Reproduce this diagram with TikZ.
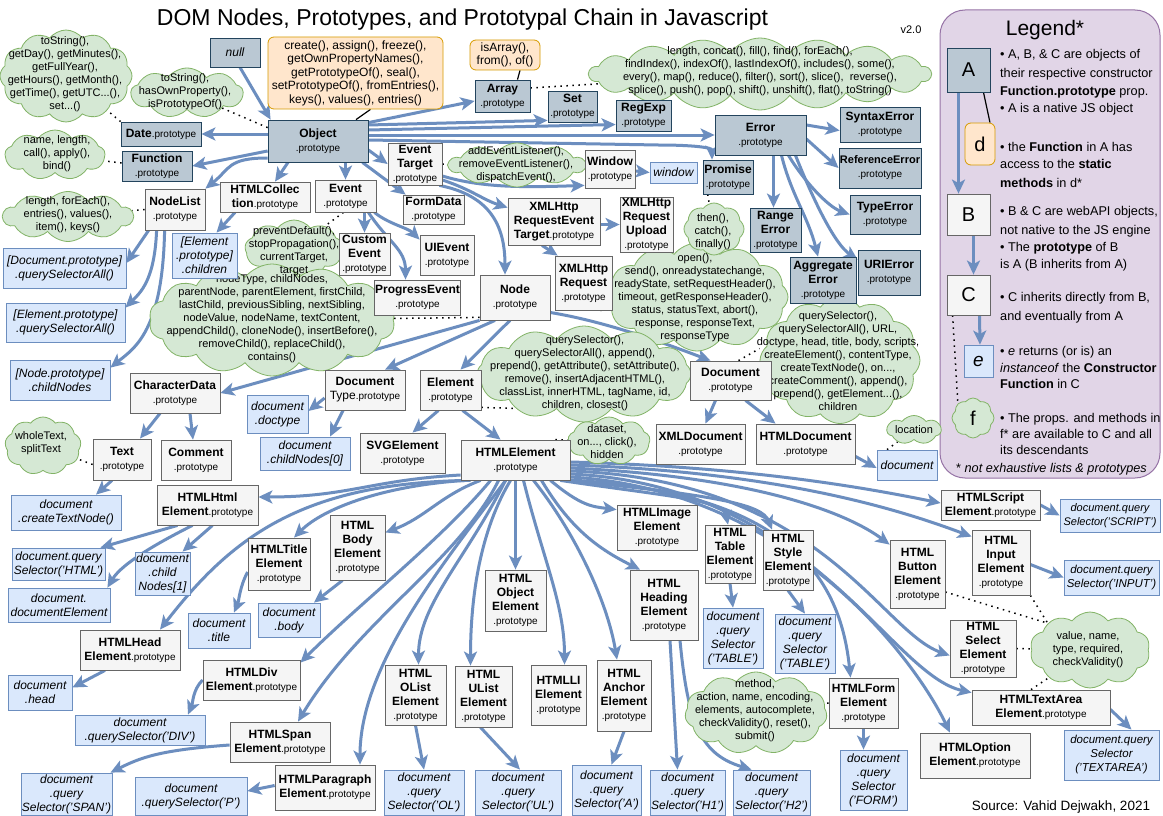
\documentclass[tikz,border=0pt]{standalone}
\usepackage{fontspec}
\setmainfont{Liberation Sans}
\usetikzlibrary{arrows.meta,shapes.symbols,calc}
\definecolor{natF}{HTML}{BAC8D3}
\definecolor{natB}{HTML}{23445D}
\definecolor{webF}{HTML}{F5F5F5}
\definecolor{webB}{HTML}{666666}
\definecolor{instF}{HTML}{DAE8FC}
\definecolor{instB}{HTML}{6C8EBF}
\definecolor{statF}{HTML}{FFE6CC}
\definecolor{statB}{HTML}{D79B00}
\definecolor{cldF}{HTML}{D5E8D4}
\definecolor{cldB}{HTML}{82B366}
\definecolor{arrC}{HTML}{6C8EBF}
\definecolor{legF}{HTML}{E1D5E7}
\definecolor{legB}{HTML}{9673A6}
\pgfdeclarelayer{back}
\pgfdeclarelayer{bg}
\pgfsetlayers{back,bg,main}
\newcommand\protoT{{\fontsize{10}{14}\selectfont .prototype}}
\tikzset{
  bx/.style={draw, line width=0.8pt, align=center, inner sep=1pt, font=\fontsize{12}{14}\selectfont},
  nat/.style={bx, draw=natB, fill=natF},
  web/.style={bx, draw=webB, fill=webF},
  inst/.style={bx, draw=instB, fill=instF, font=\fontsize{12}{14}\selectfont\itshape},
  stat/.style={bx, draw=statB, fill=statF, rounded corners=6pt},
  cld/.style={cloud, cloud puffs=#1, cloud puff arc=105, cloud ignores aspect, draw=cldB, fill=cldF, line width=0.8pt, inner sep=0pt},
  cld/.default=10,
  ctx/.style={align=center, font=\fontsize{11}{13}\selectfont, inner sep=0pt},
  arr/.style={draw=arrC, line width=3pt, -{Stealth[length=14pt,width=13pt,inset=3.5pt]}},
  dotln/.style={draw=black, line width=1.5pt, dash pattern=on 1.5pt off 4.5pt},
  stln/.style={draw=black, line width=1.2pt},
  sz/.style 2 args={minimum width=#1pt, minimum height=#2pt},
  lg/.style={anchor=west, inner sep=0pt, font=\fontsize{12.7}{15}\selectfont},
  big/.style={font=\fontsize{20}{22}\selectfont},
}
\begin{document}
\begin{tikzpicture}[x=1pt,y=-1pt]
\begin{pgfonlayer}{back}
\fill[white] (0,0) rectangle (1163,816);
\node[draw=legB, fill=legF, line width=1pt, rounded corners=25pt, sz={220}{468}, inner sep=0pt] (legend) at (1050,244) {};
\end{pgfonlayer}
\useasboundingbox (0,0) rectangle (1163,816);

% ---------- texts
\node[font=\fontsize{23}{26}\selectfont, inner sep=0pt] (title) at (462.5,20) {DOM Nodes, Prototypes, and Prototypal Chain in Javascript};
\node[font=\fontsize{11}{13}\selectfont, inner sep=0pt] (ver) at (911,30) {v2.0};
\node[font=\fontsize{13.5}{16}\selectfont, inner sep=0pt] (src) at (1061,807) {Source: Vahid Dejwakh, 2021};
\node[font=\fontsize{21}{24}\selectfont, inner sep=0pt] (legtitle) at (1045,30) {Legend*};

% ---------- clouds
\node[cld=12,sz={132}{92}] (cdate) at (66,76) {};
\node[cld=9,sz={112}{50}] (cobj) at (187,93) {};
\node[cld=9,sz={100}{50}] (cfunc) at (55,155) {};
\node[cld=10,sz={130}{50}] (cnodelist) at (68,216.5) {};
\node[cld=18,sz={342}{72}] (carray) at (760,74) {};
\node[cld=10,sz={136}{44}] (cevtarget) at (517,165) {};
\node[cld=9,sz={98}{58}] (cevent) at (294,249) {};
\node[cld=14,sz={246}{112}] (cnode) at (272,320) {};
\node[cld=12,sz={182}{108}] (cxhr) at (697,297) {};
\node[cld=8,sz={60}{52}] (cpromise) at (714,229) {};
\node[cld=12,sz={214}{96}] (celement) at (584,374) {};
\node[cld=12,sz={160}{126}] (cdocument) at (840,360.5) {};
\node[cld=7,sz={54}{29}] (clocation) at (914,430) {};
\node[cld=9,sz={82}{48}] (cdataset) at (609,441) {};
\node[cld=9,sz={76}{58}] (cwhole) at (43,446) {};
\node[cld=11,sz={142}{82}] (cform) at (756,713) {};
\node[cld=10,sz={120}{76}] (cinput) at (1090,650) {};
\node[cld=8,sz={42}{40}] (lf) at (973,418) {};

\node[ctx] (tdate) at (65,74.5) {toString(),\\getDay(), getMinutes(),\\getFullYear(),\\getHours(), getMonth(),\\getTime(), getUTC...(),\\set...()};
\node[ctx] (tobj) at (185,92) {toString(),\\hasOwnProperty(),\\isPrototypeOf()};
\node[ctx] (tfunc) at (57,154) {name, length,\\call(), apply(),\\bind()};
\node[ctx] (tnodelist) at (68,215) {length, forEach(),\\entries(), values(),\\item(), keys()};
\node[ctx] (tarray) at (760,71.5) {length, concat(), fill(), find(), forEach(),\\findIndex(), indexOf(), lastIndexOf(), includes(), some(),\\every(), map(), reduce(), filter(), sort(), slice(),\ \ reverse(),\\splice(), push(), pop(), shift(), unshift(), flat(), toString()};
\node[ctx] (tevtarget) at (516,165) {addEventListener(),\\removeEventListener(),\\dispatchEvent(),};
\node[ctx] (tevent) at (294,251) {preventDefault(),\\stopPropagation(),\\currentTarget,\\target};
\node[ctx] (tnode) at (272,319) {nodeType, childNodes,\\parentNode, parentElement, firstChild,\\lastChild, previousSibling, nextSibling,\\nodeValue, nodeName, textContent,\\appendChild(), cloneNode(), insertBefore(),\\removeChild(), replaceChild(),\\contains()};
\node[ctx] (txhr) at (695,297.5) {open(),\\send(), onreadystatechange,\\readyState, setRequestHeader(),\\timeout, getResponseHeader(),\\status, statusText, abort(),\\response, responseText,\\responseType};
\node[ctx] (tpromise) at (713,232) {then(),\\catch(),\\finally()};
\node[ctx] (telement) at (585,373.5) {querySelector(),\\querySelectorAll(), append(),\\prepend(), getAttribute(), setAttribute(),\\remove(), insertAdjacentHTML(),\\classList, innerHTML, tagName, id,\\children, closest()};
\node[ctx] (tdocument) at (838,361) {querySelector(),\\querySelectorAll(), URL,\\doctype, head, title, body, scripts,\\createElement(), contentType,\\createTextNode(), on...,\\createComment(), append(),\\prepend(), getElement...(),\\children};
\node[ctx] (tlocation) at (914,430) {location};
\node[ctx] (tdataset) at (607,441.5) {dataset,\\on..., click(),\\hidden};
\node[ctx] (twhole) at (41,443) {wholeText,\\splitText};
\node[ctx] (tform) at (755,710.5) {method,\\action, name, encoding,\\elements, autocomplete,\\checkValidity(), reset(),\\submit()};
\node[ctx] (tinput) at (1088,650) {value, name,\\type, required,\\checkValidity()};
\node[ctx,big] (lft) at (973,418) {f};

% ---------- native objects
\node[nat,sz={50}{29},font=\fontsize{12}{14}\selectfont\itshape] (null) at (235,52.5) {null};
\node[nat,sz={100}{42}] (obj) at (318,141) {\textbf{Object}\\\protoT};
\node[nat,sz={80}{24}] (date) at (161,134) {\textbf{Date}\protoT};
\node[nat,sz={70}{30}] (func) at (157,166) {\textbf{Function}\\\protoT};
\node[nat,sz={55}{32}] (array) at (502.5,96) {\textbf{Array}\\\protoT};
\node[nat,sz={49}{31}] (set) at (572.5,106.5) {\textbf{Set}\\\protoT};
\node[nat,sz={55}{31}] (regexp) at (643.5,115.5) {\textbf{RegExp}\\\protoT};
\node[nat,sz={91}{40}] (error) at (760.5,135) {\textbf{Error}\\\protoT};
\node[nat,sz={80}{35}] (syntax) at (880,124.5) {\textbf{SyntaxError}\\\protoT};
\node[nat,sz={82}{40},font=\fontsize{11}{14}\selectfont] (reference) at (880,168) {\textbf{ReferenceError}\\\protoT};
\node[nat,sz={70}{39}] (type) at (885,214.5) {\textbf{TypeError}\\\protoT};
\node[nat,sz={62}{45}] (uri) at (889,272.5) {\textbf{URIError}\\\protoT};
\node[nat,sz={50}{34}] (promise) at (728,177) {\textbf{Promise}\\\protoT};
\node[nat,sz={51}{44}] (range) at (775.5,230) {\textbf{Range}\\\textbf{Error}\\\protoT};
\node[nat,sz={66}{46}] (aggregate) at (823,280) {\textbf{Aggregate}\\\textbf{Error}\\\protoT};

% ---------- static methods
\node[stat,sz={175}{72},font=\fontsize{12}{13.5}\selectfont] (statobj) at (355.5,73) {create(), assign(), freeze(),\\getOwnPropertyNames(),\\getPrototypeOf(), seal(),\\setPrototypeOf(), fromEntries(),\\keys(), values(), entries()};
\node[stat,sz={70}{30},font=\fontsize{12}{13}\selectfont] (statarr) at (505,55) {isArray(),\\from(), of()};

% ---------- web API objects
\node[web,sz={54}{42}] (evtarget) at (415,164) {\textbf{Event}\\\textbf{Target}\\\protoT};
\node[web,sz={61}{32}] (event) at (345.5,196) {\textbf{Event}\\\protoT};
\node[web,sz={90}{30}] (htmlcoll) at (265,197) {\textbf{HTMLCollec}\\\textbf{tion}\protoT};
\node[web,sz={60}{41}] (nodelist) at (175,209.5) {\textbf{NodeList}\\\protoT};
\node[web,sz={51}{42}] (customevent) at (364.5,254) {\textbf{Custom}\\\textbf{Event}\\\protoT};
\node[web,sz={61}{29}] (formdata) at (433.5,209.5) {\textbf{FormData}\\\protoT};
\node[web,sz={54}{40}] (uievent) at (447,255) {\textbf{UIEvent}\\\protoT};
\node[web,sz={85}{35}] (progress) at (417.5,297.5) {\textbf{ProgressEvent}\\\protoT};
\node[web,sz={92}{47}] (xhret) at (554,221.5) {\textbf{XMLHttp}\\\textbf{RequestEvent}\\\textbf{Target}\protoT};
\node[web,sz={50}{38}] (windowp) at (610,169) {\textbf{Window}\\\protoT};
\node[web,sz={53}{55}] (xhrupload) at (646.5,224.5) {\textbf{XMLHttp}\\\textbf{Request}\\\textbf{Upload}\\\protoT};
\node[web,sz={57}{54}] (xhr) at (583.5,283) {\textbf{XMLHttp}\\\textbf{Request}\\\protoT};
\node[web,sz={70}{45}] (node) at (515,297.5) {\textbf{Node}\\\protoT};
\node[web,sz={90}{40}] (chardata) at (175,393) {\textbf{CharacterData}\\\protoT};
\node[web,sz={80}{40}] (doctypep) at (365,390) {\textbf{Document}\\Type\protoT};
\node[web,sz={61}{40}] (element) at (450.5,390) {\textbf{Element}\\\protoT};
\node[web,sz={81}{39}] (documentp) at (730.5,380.5) {\textbf{Document}\\\protoT};
\node[web,sz={58}{41}] (textp) at (122,459.5) {\textbf{Text}\\\protoT};
\node[web,sz={70}{40}] (comment) at (196,460) {\textbf{Comment}\\\protoT};
\node[web,sz={85}{40}] (svg) at (402.5,453) {\textbf{SVGElement}\\\protoT};
\node[web,sz={109}{40}] (htmlel) at (515.5,460) {\textbf{HTMLElement}\\\protoT};
\node[web,sz={89}{40}] (xmldoc) at (700.5,444) {\textbf{XMLDocument}\\\protoT};
\node[web,sz={99}{40}] (htmldoc) at (805.5,444) {\textbf{HTMLDocument}\\\protoT};
\node[web,sz={101}{40}] (htmlhtml) at (207.5,505) {\textbf{HTMLHtml}\\\textbf{Element}\protoT};
\node[web,sz={62}{52}] (htmltitle) at (279,564) {\textbf{HTMLTitle}\\\textbf{Element}\\\protoT};
\node[web,sz={55}{65}] (htmlbody) at (357.5,547.5) {\textbf{HTML}\\\textbf{Body}\\\textbf{Element}\\\protoT};
\node[web,sz={100}{40}] (htmlhead) at (130,650) {\textbf{HTMLHead}\\\textbf{Element}\protoT};
\node[web,sz={97}{40}] (htmldiv) at (251.5,680) {\textbf{HTMLDiv}\\\textbf{Element}\protoT};
\node[web,sz={100}{40}] (htmlspan) at (280,742) {\textbf{HTMLSpan}\\\textbf{Element}\protoT};
\node[web,sz={100}{45}] (htmlp) at (325,787.5) {\textbf{HTMLParagraph}\\\textbf{Element}\protoT};
\node[web,sz={61}{61}] (htmlobject) at (515.5,600.5) {\textbf{HTML}\\\textbf{Object}\\\textbf{Element}\\\protoT};
\node[web,sz={61}{60}] (olist) at (415.5,695) {\textbf{HTML}\\\textbf{OList}\\\textbf{Element}\\\protoT};
\node[web,sz={57}{61}] (ulist) at (483.5,696.5) {\textbf{HTML}\\\textbf{UList}\\\textbf{Element}\\\protoT};
\node[web,sz={55}{60}] (li) at (558.5,695) {\textbf{HTMLLI}\\\textbf{Element}\\\protoT};
\node[web,sz={54}{71}] (anchor) at (624,695.5) {\textbf{HTML}\\\textbf{Anchor}\\\textbf{Element}\\\protoT};
\node[web,sz={68}{70}] (heading) at (664,605) {\textbf{HTML}\\\textbf{Heading}\\\textbf{Element}\\\protoT};
\node[web,sz={80}{45}] (image) at (657,527.5) {\textbf{HTMLImage}\\\textbf{Element}\\\protoT};
\node[web,sz={50}{58}] (table) at (730,554) {\textbf{HTML}\\\textbf{Table}\\\textbf{Element}\\\protoT};
\node[web,sz={50}{60}] (style) at (788,560) {\textbf{HTML}\\\textbf{Style}\\\textbf{Element}\\\protoT};
\node[web,sz={69}{50}] (form) at (863.5,703) {\textbf{HTMLForm}\\\textbf{Element}\\\protoT};
\node[web,sz={55}{68}] (button) at (917.5,574) {\textbf{HTML}\\\textbf{Button}\\\textbf{Element}\\\protoT};
\node[web,sz={58}{65}] (input) at (1001,562.5) {\textbf{HTML}\\\textbf{Input}\\\textbf{Element}\\\protoT};
\node[web,sz={99}{30}] (script) at (990.5,505) {\textbf{HTMLScript}\\\textbf{Element}\protoT};
\node[web,sz={66}{57}] (select) at (983,648.5) {\textbf{HTML}\\\textbf{Select}\\\textbf{Element}\\\protoT};
\node[web,sz={138}{35}] (textarea) at (1041,707.5) {\textbf{HTMLTextArea}\\\textbf{Element}\protoT};
\node[web,sz={110}{45}] (option) at (975,755.5) {\textbf{HTMLOption}\\\textbf{Element}\protoT};

% ---------- instances
\node[inst,sz={123}{40}] (idocqsa) at (64.5,268) {[Document.prototype]\\.querySelectorAll()};
\node[inst,sz={119}{39}] (ielqsa) at (65.5,322.5) {[Element.prototype]\\.querySelectorAll()};
\node[inst,sz={100}{40}] (ichildnodes) at (60,380) {[Node.prototype]\\.childNodes};
\node[inst,sz={65}{45}] (ichildren) at (204.5,255.5) {[Element\\.prototype]\\.children};
\node[inst,sz={47}{21}] (iwindow) at (673.5,172.5) {window};
\node[inst,sz={61}{38}] (idoctype) at (277.5,414) {document\\.doctype};
\node[inst,sz={90}{33}] (ichildnodes0) at (305,453.5) {document\\.childNodes[0]};
\node[inst,sz={60}{30}] (idocument) at (907,465) {document};
\node[inst,sz={110}{35}] (itextnode) at (66,512.5) {document\\.createTextNode()};
\node[inst,sz={93}{32}] (iqshtml) at (58.5,564) {document.query\\Selector('HTML')};
\node[inst,sz={55}{43}] (ichildnodes1) at (162.5,573.5) {document\\.child\\Nodes[1]};
\node[inst,sz={102}{34}] (idocel) at (59,605) {document.\\documentElement};
\node[inst,sz={62}{35}] (ititle) at (219,630.5) {document\\.title};
\node[inst,sz={62}{34}] (ibody) at (289,620) {document\\.body};
\node[inst,sz={64}{35}] (ihead) at (40,692.5) {document\\.head};
\node[inst,sz={130}{30}] (idiv) at (140,730) {document\\.querySelector('DIV')};
\node[inst,sz={91}{42}] (ispan) at (66.5,794) {document\\.query\\Selector('SPAN')};
\node[inst,sz={112}{38}] (ip) at (191,796) {document\\.querySelector('P')};
\node[inst,sz={80}{45}] (iol) at (424,792.5) {document\\.query\\Selector('OL')};
\node[inst,sz={86}{45}] (iul) at (518,792.5) {document\\.query\\Selector('UL')};
\node[inst,sz={69}{50}] (ia) at (606.5,790) {document\\.query\\Selector('A')};
\node[inst,sz={75}{45}] (ih1) at (687.5,792.5) {document\\.query\\Selector('H1')};
\node[inst,sz={77}{45}] (ih2) at (771.5,792.5) {document\\.query\\Selector('H2')};
\node[inst,sz={60}{60}] (itable1) at (733,638) {document\\.query\\Selector\\('TABLE')};
\node[inst,sz={60}{59}] (itable2) at (805,643.5) {document\\.query\\Selector\\('TABLE')};
\node[inst,sz={67}{60}] (iform) at (873.5,780) {document\\.query\\Selector\\('FORM')};
\node[inst,sz={95}{35},font=\fontsize{11.5}{14}\selectfont\itshape] (iinput) at (1111.5,577.5) {document.query\\Selector('INPUT')};
\node[inst,sz={95}{50},font=\fontsize{11.5}{14}\selectfont\itshape] (itextarea) at (1111.5,755) {document.query\\Selector\\('TEXTAREA')};
\node[inst,sz={100}{33},font=\fontsize{11}{14}\selectfont\itshape] (iscript) at (1110,515.5) {document.query\\Selector('SCRIPT')};

% ---------- legend
\node[nat,sz={43}{44},big] (lA) at (968.5,70) {A};
\node[stat,sz={30}{42},big] (ld) at (980,144) {d};
\node[web,sz={43}{41},big] (lB) at (968.5,214.5) {B};
\node[web,sz={43}{40},big] (lC) at (968.5,295) {C};
\node[inst,sz={29}{32},font=\fontsize{19}{22}\selectfont\itshape] (le) at (978.5,361) {e};
\node[lg] (l1) at (1000,55) {• A, B, \& C are objects of};
\node[lg] (l2) at (1000,74) {their respective constructor};
\node[lg] (l3) at (1000,92) {\textbf{Function.prototype} prop.};
\node[lg] (l4) at (1000,109) {• A is a native JS object};
\node[lg] (l5) at (1000,147) {• the \textbf{Function} in A has};
\node[lg] (l6) at (1000,164) {access to the \textbf{static}};
\node[lg] (l7) at (1000,183) {\textbf{methods} in d*};
\node[lg] (l8) at (1000,212) {• B \& C are webAPI objects,};
\node[lg] (l9) at (1000,231) {not native to the JS engine};
\node[lg] (l10) at (1000,248) {• The \textbf{prototype} of B};
\node[lg] (l11) at (1000,265) {is A (B inherits from A)};
\node[lg] (l12) at (1000,298) {• C inherits directly from B,};
\node[lg] (l13) at (1000,317) {and eventually from A};
\node[lg] (l14) at (1000,352) {• \textit{e} returns (or is) an};
\node[lg] (l15) at (1000,368) {\textit{instanceof} the \textbf{Constructor}};
\node[lg] (l16) at (1000,384) {\textbf{Function} in C};
\node[lg] (l17) at (1000,419) {• The props. and methods in};
\node[lg] (l18) at (1000,434) {f* are available to C and all};
\node[lg] (l19) at (1000,450) {its descendants};
\node[lg] (l20) at (956,469) {* \textit{not exhaustive lists \& prototypes}};

% ---------- connectors
\begin{pgfonlayer}{bg}
% static links
\draw[stln] ($(statobj.south)+(15,0)$) -- ($(obj.north)+(38,0)$);
\draw[stln] ($(statarr.south)+(15,0)$) -- ($(array.north)+(15,0)$);
\draw[stln] ($(lA.south)+(15,0)$) -- ($(ld.north)+(10,0)$);
% dotted
\draw[dotln] (date.north west) -- (cdate);
\draw[dotln] ($(obj.north west)+(0,8)$) -- (cobj);
\draw[dotln] ($(func.west)+(0,-3)$) -- (cfunc);
\draw[dotln] (nodelist.west) -- (cnodelist);
\draw[dotln] ($(array.east)+(0,-8)$) -- (carray);
\draw[dotln] (evtarget.east) -- (cevtarget);
\draw[dotln] ($(event.south)+(-2,0)$) -- (cevent);
\draw[dotln] ($(xhr.south east)+(-12,0)$) -- (cxhr);
\draw[dotln] ($(node.south west)+(0,-3)$) -- (cnode);
\draw[dotln] ($(element.south east)+(0,-3)$) -- (element.south east -| celement.center);
\draw[dotln] ($(promise.south west)+(5,0)$) -- (cpromise);
\draw[dotln] ($(documentp.north)+(8,0)$) -- ($(cdocument.west)+(0,-12)$);
\draw[dotln] ($(idocument.north)+(-20,0)$) -- (clocation);
\draw[dotln] ($(htmlel.north east)+(-15,0)$) -- (cdataset);
\draw[dotln] ($(textp.west)+(0,5)$) -- (cwhole);
\draw[dotln] (form.west) -- (cform);
\draw[dotln] ($(button.east)+(0,18)$) -- (cinput.north west);
\draw[dotln] (input.south east) -- (cinput.north west);
\draw[dotln] (select.east) -- (cinput);
\draw[dotln] ($(textarea.north)+(-10,0)$) -- (cinput);
\draw[dotln] ($(lC.south west)+(6,0)$) -- (lf.north west);
% legend arrows
\draw[arr] ($(lA.south)+(-10,0)$) -- ($(lB.north)+(-10,0)$);
\draw[arr] ($(lB.south)+(5,0)$) -- ($(lC.north)+(5,0)$);
\draw[arr] ($(lC.south)+(11,0)$) -- ($(le.north)+(1.5,0)$);
% null and Object
\draw[arr] ($(null.south)+(5,0)$) -- ($(obj.north west)+(3,0)$);
\draw[arr] (obj.west |- date.east) -- (date.east);
\draw[arr] ($(obj.west)+(0,10)$) -- (func.east);
\draw[arr] ($(obj.west)+(0,17)$) .. controls +(-40,0) and +(25,-20) .. (nodelist.north east);
\draw[arr] ($(obj.south)+(-30,0)$) -- ($(htmlcoll.north)+(10,0)$);
\draw[arr] (obj.south -| event.north) -- (event.north);
\draw[arr] ($(obj.east)+(0,9)$) -- (evtarget.west);
\draw[arr] ($(obj.south east)+(-6,0)$) -- ($(formdata.north west)+(3,0)$);
\draw[arr] ($(obj.north east)+(0,3)$) -- ($(array.west)+(0,5)$);
\draw[arr] ($(obj.east)+(0,-16)$) -- ($(set.south west)+(0,-2)$);
\draw[arr] ($(obj.east)+(0,-11)$) -- ($(regexp.west)+(0,9)$);
\draw[arr] ($(obj.east)+(0,-6)$) -- (error.west);
\draw[arr] ($(obj.east)+(0,-1)$) -- ++(290,5) .. controls +(35,0) and +(0,-12) .. ($(promise.north)+(-16,0)$);
% EventTarget
\draw[arr] ($(evtarget.east)+(0,12)$) .. controls +(40,12) and +(-60,2) .. ($(windowp.south west)+(0,-3)$);
\draw[arr] ($(evtarget.east)+(0,16)$) .. controls +(30,10) and +(-25,-8) .. ($(xhret.north west)+(0,10)$);
\draw[arr] ($(evtarget.south east)+(-3,0)$) .. controls +(50,10) and +(0,-50) .. ($(node.north)+(-10,0)$);
% Event
\draw[arr] (event.south -| customevent.north) -- (customevent.north);
\draw[arr] ($(event.south east)+(-2,0)$) .. controls +(15,12) and +(-12,-12) .. ($(uievent.north west)+(0,5)$);
\draw[arr] ($(event.south east)+(-8,0)$) .. controls +(20,30) and +(0,-30) .. ($(progress.north)+(-12,0)$);
% collections
\draw[arr] ($(htmlcoll.south)+(-30,0)$) -- ($(ichildren.north)+(12,0)$);
\draw[arr] ($(nodelist.south west)+(4,0)$) -- ($(idocqsa.east)+(0,-5)$);
\draw[arr] ($(nodelist.south west)+(12,0)$) .. controls +(-2,50) and +(15,-15) .. ($(ielqsa.north east)+(0,5)$);
\draw[arr] ($(nodelist.south west)+(20,0)$) .. controls +(-2,100) and +(25,-20) .. ($(ichildnodes.north east)+(0,8)$);
% Node
\draw[arr] (node.south west) -- (chardata.east);
\draw[arr] ($(node.south)+(-20,0)$) -- ($(doctypep.north)+(20,0)$);
\draw[arr] ($(node.south)+(-5,0)$) -- ($(element.north)+(10,0)$);
\draw[arr] ($(node.east)+(0,15)$) .. controls +(60,10) and +(-40,-15) .. ($(documentp.north)+(-20,0)$);
% XHR
\draw[arr] ($(xhret.east)+(0,3)$) -- (xhrupload.west);
\draw[arr] ($(xhret.south)+(-12,0)$) -- ($(xhr.north west)+(3,0)$);
\draw[arr] ($(windowp.east)+(0,2)$) -- (iwindow.west);
% Error
\draw[arr] ($(error.east)+(0,-10)$) -- ($(syntax.west)+(0,6)$);
\draw[arr] ($(error.east)+(0,4)$) -- (reference.west);
\draw[arr] ($(error.south)+(13,0)$) -- ($(range.north)+(-2,0)$);
\draw[arr] ($(error.south)+(21,0)$) .. controls +(10,40) and +(-10,-40) .. ($(aggregate.north)+(-5,0)$);
\draw[arr] ($(error.south)+(28,0)$) .. controls +(15,25) and +(-22,-8) .. (type.west);
\draw[arr] ($(error.south)+(35,0)$) .. controls +(20,50) and +(-22,-15) .. ($(uri.north west)+(0,10)$);
% Document
\draw[arr] ($(documentp.south)+(-15,0)$) -- ($(xmldoc.north)+(5,0)$);
\draw[arr] ($(documentp.south)+(15,0)$) -- ($(htmldoc.north)+(-30,0)$);
\draw[arr] ($(htmldoc.south east)+(0,-8)$) -- ($(idocument.west)+(0,3)$);
% Element, DocumentType, CharacterData
\draw[arr] ($(element.south)+(-12,0)$) -- ($(svg.north)+(10,0)$);
\draw[arr] ($(element.south)+(12,0)$) -- ($(htmlel.north)+(-15,0)$);
\draw[arr] ($(doctypep.west)+(0,8)$) -- ($(idoctype.east)+(0,-3)$);
\draw[arr] ($(doctypep.south)+(-22,0)$) -- ($(ichildnodes0.north)+(25,0)$);
\draw[arr] ($(chardata.south)+(-15,0)$) -- ($(textp.north)+(18,0)$);
\draw[arr] ($(chardata.south)+(15,0)$) -- ($(comment.north)+(-3,0)$);
\draw[arr] ($(textp.south)+(-10,0)$) -- ($(itextnode.north)+(30,0)$);
% HTMLElement -> left
\draw[arr] ($(htmlel.west)+(0,15)$) .. controls +(-90,5) and +(90,0) .. ($(htmlhtml.east)+(0,-8)$);
\draw[arr] ($(htmlel.south west)+(5,0)$) .. controls +(-80,5) and +(30,-30) .. ($(htmltitle.north)+(15,0)$);
\draw[arr] ($(htmlel.south west)+(10,0)$) .. controls +(-171,2) and +(70,-90) .. ($(htmlhead.north)+(30,0)$);
\draw[arr] ($(htmlel.south west)+(20,0)$) .. controls +(-40,15) and +(40,-15) .. ($(htmlbody.east)+(0,-15)$);
\draw[arr] ($(htmlel.south west)+(30,0)$) .. controls +(-50,60) and +(60,-60) .. ($(htmldiv.north east)+(0,3)$);
\draw[arr] ($(htmlel.south west)+(38,0)$) .. controls +(-40,80) and +(60,-100) .. ($(htmlspan.north)+(18,0)$);
\draw[arr] ($(htmlel.south west)+(45,0)$) .. controls +(-60,80) and +(0,-100) .. ($(htmlp.north)+(35,0)$);
% HTMLElement -> down
\draw[arr] ($(htmlel.south)+(-10,0)$) .. controls +(-40,80) and +(0,-60) .. ($(olist.north)+(3,0)$);
\draw[arr] ($(htmlel.south)+(-5,0)$) .. controls +(-30,50) and +(0,-70) .. ($(ulist.north)+(-13,0)$);
\draw[arr] (htmlel.south) -- (htmlobject.north);
\draw[arr] ($(htmlel.south)+(8,0)$) .. controls +(20,80) and +(0,-60) .. ($(li.north)+(6,0)$);
\draw[arr] ($(htmlel.south)+(18,0)$) .. controls +(40,50) and +(-10,-60) .. ($(anchor.north)+(-7,0)$);
\draw[arr] ($(htmlel.south)+(26,0)$) .. controls +(30,50) and +(-40,-20) .. ($(heading.north)+(-24,0)$);
\draw[arr] ($(htmlel.south east)+(-20,0)$) .. controls +(30,25) and +(-25,-3) .. ($(image.north west)+(0,5)$);
\draw[arr] ($(htmlel.south east)+(-10,0)$) .. controls +(100,15) and +(-5,-25) .. ($(table.north)+(-2,0)$);
\draw[arr] ($(htmlel.south east)+(-3,0)$) .. controls +(150,15) and +(-10,-25) .. ($(style.north)+(-16,0)$);
% HTMLElement -> right
\draw[arr] ($(htmlel.east)+(0,2)$) .. controls +(190,5) and +(-60,-12) .. ($(script.west)+(0,-2)$);
\draw[arr] ($(htmlel.east)+(0,5)$) .. controls +(210,7) and +(-72,-27) .. ($(input.north west)+(0,7)$);
\draw[arr] ($(htmlel.east)+(0,8)$) .. controls +(190,9) and +(-40,-30) .. ($(button.north west)+(0,5)$);
\draw[arr] ($(htmlel.east)+(0,11)$) .. controls +(250,9) and +(-70,-25) .. ($(select.west)+(0,7)$);
\draw[arr] ($(htmlel.east)+(0,14)$) .. controls +(240,11) and +(-82,-18) .. ($(textarea.north west)+(0,3)$);
\draw[arr] ($(htmlel.east)+(0,17)$) .. controls +(220,13) and +(-35,-73) .. ($(option.north)+(-25,0)$);
\draw[arr] ($(htmlel.east)+(0,20)$) .. controls +(220,13) and +(-10,-98) .. ($(form.north)+(-13,0)$);
% HTML elements -> instances
\draw[arr] ($(htmlhtml.south)+(-30,0)$) -- ($(iqshtml.north east)+(-5,0)$);
\draw[arr] ($(htmlhtml.south)+(-15,0)$) .. controls +(-30,15) and +(15,-25) .. ($(idocel.north east)+(-3,0)$);
\draw[arr] ($(htmlhtml.south)+(5,0)$) -- ($(ichildnodes1.north)+(20,0)$);
\draw[arr] ($(htmltitle.west)+(0,8)$) .. controls +(-8,15) and +(5,-12) .. ($(ititle.north)+(15,0)$);
\draw[arr] ($(htmlbody.south)+(-15,0)$) -- ($(ibody.north)+(25,0)$);
\draw[arr] ($(htmlhead.south)+(-25,0)$) -- ($(ihead.east)+(0,-5)$);
\draw[arr] (htmldiv.west) .. controls +(-10,10) and +(5,-12) .. ($(idiv.north)+(48,0)$);
\draw[arr] ($(htmlspan.west)+(0,3)$) .. controls +(-70,5) and +(30,-15) .. ($(ispan.north east)+(-2,0)$);
\draw[arr] ($(htmlp.west)+(0,-2)$) -- ($(ip.east)+(0,-5)$);
\draw[arr] (olist.south) -- (iol.north);
\draw[arr] ($(ulist.south)+(-3,0)$) -- ($(iul.north)+(2,0)$);
\draw[arr] (anchor.south) -- ($(ia.north)+(5,0)$);
\draw[arr] ($(heading.south)+(6,0)$) -- ($(ih1.north)+(-10,0)$);
\draw[arr] ($(heading.south)+(16,0)$) .. controls +(8,85) and +(-50,-15) .. ($(ih2.north)+(-20,0)$);
\draw[arr] (table.south) -- (itable1.north);
\draw[arr] (style.south) -- (itable2.north);
\draw[arr] (form.south) -- (form.south |- iform.north);
\draw[arr] ($(input.east)+(0,2)$) -- (iinput.west);
\draw[arr] ($(textarea.east)+(0,2)$) -- ($(itextarea.north)+(20,0)$);
\draw[arr] (script.east) -- (iscript.west);
\end{pgfonlayer}
\end{tikzpicture}
\end{document}
